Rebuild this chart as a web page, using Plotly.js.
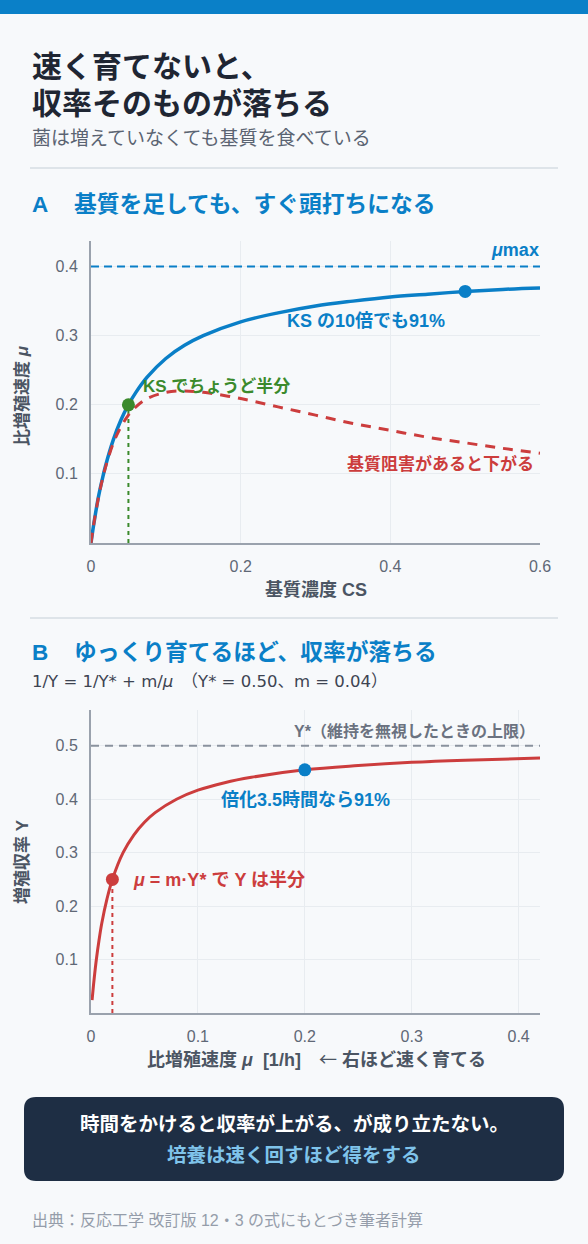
<!DOCTYPE html>
<html lang="ja">
<head>
<meta charset="utf-8">
<script src="https://cdn.plot.ly/plotly-3.0.1.min.js"></script>
<style>
  html, body { margin: 0; padding: 0; background: #f7f9fb; }
  #page { width: 588px; height: 1244px; }
</style>
</head>
<body>
<div id="page"></div>
<script>
/* ── Data ─────────────────────────────────────────────────── */
// Panel A: substrate concentration vs specific growth rate
const csA      = [0, 0.0025, 0.005, 0.01, 0.015, 0.02, 0.03, 0.04, 0.05, 0.06, 0.075, 0.1, 0.125, 0.15, 0.2, 0.25, 0.3, 0.35, 0.4, 0.45, 0.5, 0.55, 0.6];
const muMonod  = [0, 0.019, 0.036, 0.067, 0.092, 0.114, 0.150, 0.178, 0.200, 0.218, 0.240, 0.267, 0.286, 0.300, 0.320, 0.333, 0.343, 0.350, 0.356, 0.360, 0.364, 0.367, 0.369];
const muInhib  = [0, 0.019, 0.036, 0.066, 0.091, 0.112, 0.145, 0.168, 0.185, 0.197, 0.209, 0.218, 0.220, 0.218, 0.209, 0.197, 0.185, 0.173, 0.163, 0.153, 0.145, 0.137, 0.130];
const muMax    = 0.4;
const ksPoint  = { x: [0.05], y: [0.2] };
const tenKs    = { x: [0.5],  y: [0.364] };

// Panel B: specific growth rate vs growth yield
const muB      = [0.001, 0.002, 0.003, 0.005, 0.0075, 0.01, 0.015, 0.02, 0.03, 0.04, 0.05, 0.06, 0.08, 0.1, 0.125, 0.15, 0.2, 0.25, 0.3, 0.35, 0.42];
const yieldB   = [0.024, 0.045, 0.065, 0.100, 0.136, 0.167, 0.214, 0.250, 0.300, 0.333, 0.357, 0.375, 0.400, 0.417, 0.431, 0.441, 0.455, 0.463, 0.469, 0.473, 0.477];
const yStar    = 0.5;
const halfPt   = { x: [0.02], y: [0.25] };
const dblPt    = { x: [0.2],  y: [0.455] };

const ticksAx  = [0, 0.2, 0.4, 0.6];
const ticksAy  = [0.1, 0.2, 0.3, 0.4];
const ticksBx  = [0, 0.1, 0.2, 0.3, 0.4];
const ticksBy  = [0.1, 0.2, 0.3, 0.4, 0.5];

/* ── Page geometry (px → paper) ───────────────────────────── */
const W = 588, H = 1244;
const px = x => x / W;
const py = y => 1 - y / H;

const FONT  = 'Liberation Sans, Noto Sans CJK JP, sans-serif';
const CJK   = 'Noto Sans CJK JP';
const BLUE  = '#0a7fc7';
const RED   = '#cc3d3d';
const GREEN = '#3b8a2c';
const INK   = '#1f2633';
const MUTED = '#6b7280';
const LABEL = '#4b5563';

const axisBase = {
  showline: true, linecolor: '#9aa2ad', linewidth: 2,
  gridcolor: '#e8ecf0', gridwidth: 1, zeroline: false,
  ticks: '', ticklabelstandoff: 8,
  tickfont: { family: FONT, size: 16, color: '#5f6876' },
  fixedrange: true
};

function txt(text, x, y, size, color, o) {
  return Object.assign({
    text: text, x: px(x), y: py(y), xref: 'paper', yref: 'paper',
    showarrow: false, xanchor: 'left', yanchor: 'middle',
    font: { family: FONT, size: size, color: color, weight: 700 }
  }, o || {});
}

/* ── Traces ───────────────────────────────────────────────── */
const traces = [
  { x: csA, y: muMonod, xaxis: 'x', yaxis: 'y', mode: 'lines',
    line: { color: BLUE, width: 3.5, shape: 'spline' }, cliponaxis: false },
  { x: csA, y: muInhib, xaxis: 'x', yaxis: 'y', mode: 'lines',
    line: { color: RED, width: 3, dash: '10px,8px', shape: 'spline' }, cliponaxis: false },
  { x: tenKs.x, y: tenKs.y, xaxis: 'x', yaxis: 'y', mode: 'markers',
    marker: { color: BLUE, size: 13 } },
  { x: ksPoint.x, y: ksPoint.y, xaxis: 'x', yaxis: 'y', mode: 'markers',
    marker: { color: GREEN, size: 13 } },

  { x: muB, y: yieldB, xaxis: 'x2', yaxis: 'y2', mode: 'lines',
    line: { color: RED, width: 3, shape: 'spline' }, cliponaxis: false },
  { x: dblPt.x, y: dblPt.y, xaxis: 'x2', yaxis: 'y2', mode: 'markers',
    marker: { color: BLUE, size: 13 } },
  { x: halfPt.x, y: halfPt.y, xaxis: 'x2', yaxis: 'y2', mode: 'markers',
    marker: { color: RED, size: 13 } }
];

/* ── Shapes: bar, dividers, reference lines, box ──────────── */
const bx0 = px(24), bx1 = px(564), by0 = py(1181), by1 = py(1097);
const rx = 12 / W, ry = 12 / H;
const boxPath = `M ${bx0 + rx},${by0} L ${bx1 - rx},${by0} Q ${bx1},${by0} ${bx1},${by0 + ry} ` +
  `L ${bx1},${by1 - ry} Q ${bx1},${by1} ${bx1 - rx},${by1} L ${bx0 + rx},${by1} ` +
  `Q ${bx0},${by1} ${bx0},${by1 - ry} L ${bx0},${by0 + ry} Q ${bx0},${by0} ${bx0 + rx},${by0} Z`;

const shapes = [
  { type: 'rect', xref: 'paper', yref: 'paper', x0: 0, x1: 1, y0: py(14), y1: 1,
    fillcolor: '#0a80c8', line: { width: 0 } },
  { type: 'line', xref: 'paper', yref: 'paper', x0: px(30), x1: px(558), y0: py(168), y1: py(168),
    line: { color: '#d6dce3', width: 1.5 } },
  { type: 'line', xref: 'paper', yref: 'paper', x0: px(30), x1: px(558), y0: py(618), y1: py(618),
    line: { color: '#d6dce3', width: 1.5 } },
  { type: 'line', xref: 'x', yref: 'y', x0: 0, x1: 0.6, y0: muMax, y1: muMax,
    line: { color: BLUE, width: 2, dash: '8px,5px' }, layer: 'between' },
  { type: 'line', xref: 'x', yref: 'y', x0: ksPoint.x[0], x1: ksPoint.x[0], y0: 0, y1: ksPoint.y[0],
    line: { color: GREEN, width: 2, dash: '4px,4px' }, layer: 'between' },
  { type: 'line', xref: 'x2', yref: 'y2', x0: 0, x1: 0.42, y0: yStar, y1: yStar,
    line: { color: '#8a929e', width: 2, dash: '8px,6px' }, layer: 'between' },
  { type: 'line', xref: 'x2', yref: 'y2', x0: halfPt.x[0], x1: halfPt.x[0], y0: 0, y1: halfPt.y[0],
    line: { color: RED, width: 2, dash: '4px,4px' }, layer: 'between' },
  { type: 'path', xref: 'paper', yref: 'paper', path: boxPath,
    fillcolor: '#1e2e44', line: { width: 0 } }
];

/* ── Text ─────────────────────────────────────────────────── */
const annotations = [
  txt('速く育てないと、', 30, 66, 30, INK),
  txt('収率そのものが落ちる', 30, 103, 30, INK),
  txt('菌は増えていなくても基質を食べている', 30, 138, 19, '#5b6472', { font: { family: FONT, size: 19, color: '#5b6472' } }),

  txt('A', 30, 204, 22.5, BLUE),
  txt('基質を足しても、すぐ頭打ちになる', 72, 204, 22.75, BLUE),

  txt('<i>μ</i>max', 541, 250, 18, BLUE, { xanchor: 'right' }),
  txt('KS の10倍でも91%', 285, 321, 18, BLUE),
  txt('KS でちょうど半分', 141, 386, 17, GREEN),
  txt('基質阻害があると下がる', 536, 464, 17, RED, { xanchor: 'right' }),
  txt('基質濃度 CS', 316, 590, 18, LABEL, { xanchor: 'center' }),
  txt('比増殖速度 <i>μ</i>', 22, 396, 17, LABEL, { xanchor: 'center', textangle: -90 }),

  txt('B', 30, 652, 22.5, BLUE),
  txt('ゆっくり育てるほど、収率が落ちる', 72, 652, 22.75, BLUE),
  txt('1/Y = 1/Y* + m/<i>μ</i>　（Y* = 0.50、m = 0.04）', 30, 681, 16.5, '#3d4452',
      { font: { family: 'DejaVu Sans, Noto Sans CJK JP, sans-serif', size: 16.5, color: '#3d4452' } }),

  txt('Y*（維持を無視したときの上限）', 537, 731, 16, MUTED, { xanchor: 'right' }),
  txt('倍化3.5時間なら91%', 305, 800, 18, BLUE, { xanchor: 'center' }),
  txt('<i>μ</i> = m·Y* で Y は半分', 131, 880, 18, RED),
  txt(`比増殖速度 <i>μ</i>  [1/h]　<span style="font-family:${CJK};font-weight:400">←</span> 右ほど速く育てる`,
      316, 1058, 18, LABEL, { xanchor: 'center' }),
  txt('増殖収率 Y', 22, 862, 17, LABEL, { xanchor: 'center', textangle: -90 }),

  txt('時間をかけると収率が上がる、が成り立たない。', 294, 1124, 19.5, '#ffffff', { xanchor: 'center' }),
  txt('培養は速く回すほど得をする', 294, 1155, 19.5, '#7fc3ea', { xanchor: 'center' }),

  txt('出典：反応工学 改訂版 12・3 の式にもとづき筆者計算', 30, 1220, 16, '#959daa',
      { font: { family: FONT, size: 16, color: '#959daa' } })
];

/* ── Layout ───────────────────────────────────────────────── */
const layout = {
  width: W, height: H,
  margin: { l: 0, r: 0, t: 0, b: 0 },
  paper_bgcolor: '#f7f9fb', plot_bgcolor: 'rgba(0,0,0,0)',
  showlegend: false, hovermode: false,
  font: { family: FONT },
  xaxis:  Object.assign({}, axisBase, { domain: [px(91), px(540)], range: [0, 0.6], anchor: 'y',
            tickvals: ticksAx, ticktext: ticksAx.map(String) }),
  yaxis:  Object.assign({}, axisBase, { domain: [py(543), py(241)], range: [0, 0.437], anchor: 'x',
            tickvals: ticksAy, ticktext: ticksAy.map(String) }),
  xaxis2: Object.assign({}, axisBase, { domain: [px(91), px(540)], range: [0, 0.42], anchor: 'y2',
            tickvals: ticksBx, ticktext: ticksBx.map(String) }),
  yaxis2: Object.assign({}, axisBase, { domain: [py(1013), py(710)], range: [0, 0.567], anchor: 'x2',
            tickvals: ticksBy, ticktext: ticksBy.map(String) }),
  shapes: shapes,
  annotations: annotations
};

Plotly.newPlot('page', traces, layout, { displayModeBar: false, staticPlot: true });
</script>
</body>
</html>
